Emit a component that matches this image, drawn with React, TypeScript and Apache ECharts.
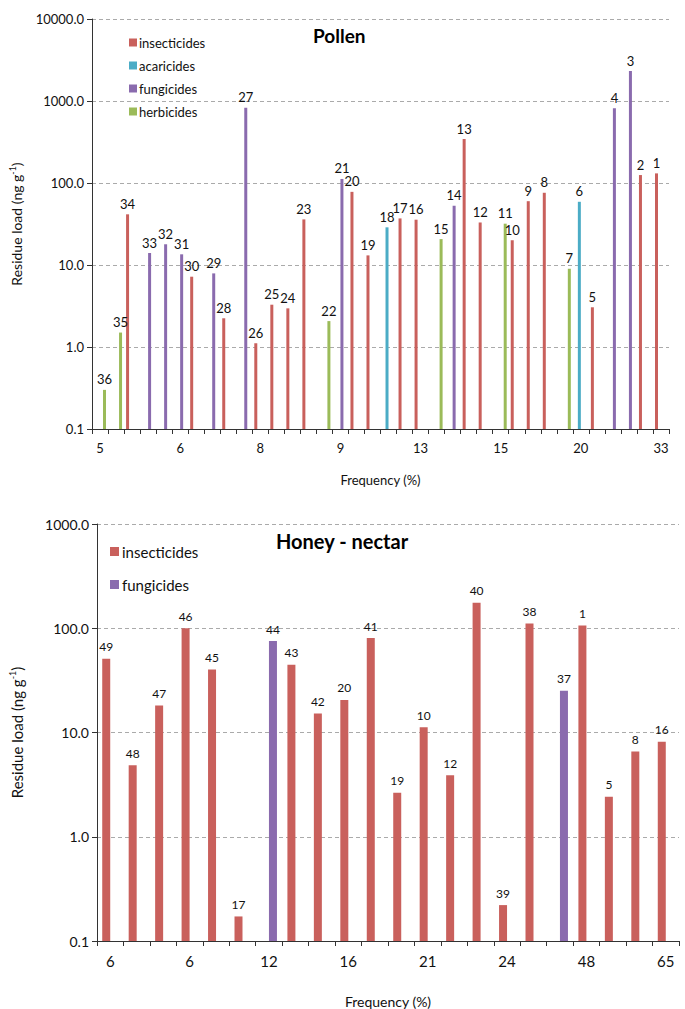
import React, { useEffect, useRef } from "react";
import * as echarts from "echarts";

// ---------- Pollen ----------
const pollenIds = [36, 35, 34, 33, 32, 31, 30, 29, 28, 27, 26, 25, 24, 23, 22, 21, 20, 19, 18, 17, 16, 15, 14, 13, 12, 11, 10, 9, 8, 7, 6, 5, 4, 3, 2, 1];
const pollenClass = ["herbicides", "herbicides", "insecticides", "fungicides", "fungicides", "fungicides", "insecticides", "fungicides", "insecticides", "fungicides", "insecticides", "insecticides", "insecticides", "insecticides", "herbicides", "fungicides", "insecticides", "insecticides", "acaricides", "insecticides", "insecticides", "herbicides", "fungicides", "insecticides", "insecticides", "herbicides", "insecticides", "insecticides", "insecticides", "herbicides", "acaricides", "insecticides", "fungicides", "fungicides", "insecticides", "insecticides"];
const pollenValues = [0.3, 1.5, 41.5, 14, 17.9, 13.5, 7.2, 7.9, 2.24, 828, 1.11, 3.28, 2.96, 36, 2.07, 112, 78, 13.1, 28.8, 37, 35.7, 20.7, 52.8, 344, 33, 31.9, 20, 60, 76, 9, 59, 3.05, 815, 2320, 125, 131];
const pollenFreqTicks = ["5", "6", "8", "9", "13", "15", "20", "33"];
const pollenGroups = ["insecticides", "acaricides", "fungicides", "herbicides"];

// ---------- Honey - nectar ----------
const honeyIds = [49, 48, 47, 46, 45, 17, 44, 43, 42, 20, 41, 19, 10, 12, 40, 39, 38, 37, 1, 5, 8, 16];
const honeyClass = ["insecticides", "insecticides", "insecticides", "insecticides", "insecticides", "insecticides", "fungicides", "insecticides", "insecticides", "insecticides", "insecticides", "insecticides", "insecticides", "insecticides", "insecticides", "insecticides", "insecticides", "fungicides", "insecticides", "insecticides", "insecticides", "insecticides"];
const honeyValues = [51, 4.85, 18.2, 100, 40.3, 0.172, 75.4, 44.7, 15.2, 20.5, 80.5, 2.64, 11.2, 3.89, 176, 0.221, 111, 25.2, 106, 2.42, 6.56, 8.13];
const honeyFreqTicks = ["6", "6", "12", "16", "21", "24", "48", "65"];
const honeyGroups = ["insecticides", "fungicides"];

const yTicks = [0.1, 1, 10, 100, 1000, 10000];

const colors: Record<string, string> = {
  insecticides: "#C9605C",
  acaricides: "#4BACC6",
  fungicides: "#8A6BAE",
  herbicides: "#9BBB59",
};

const FONT = "Lato, 'Open Sans', sans-serif";

export default function App() {
  const ref = useRef<HTMLDivElement>(null);
  useEffect(() => {
    if (!ref.current) return;
    const chart = echarts.init(ref.current, undefined, { renderer: "svg" });

    const makeY = (grid: number, max: number, fs: number, gap: number, nfs: number) => ({
      type: "log",
      gridIndex: grid,
      logBase: 10,
      min: yTicks[0],
      max,
      startValue: yTicks[0],
      axisLine: { show: true, lineStyle: { color: "#333", width: 1 } },
      axisTick: { show: true, length: 5, inside: false, lineStyle: { color: "#333" } },
      axisLabel: {
        formatter: (v: number) => Number(v).toFixed(1),
        fontSize: fs,
        color: "#111",
        fontFamily: FONT,
        margin: 8,
      },
      splitLine: { show: true, lineStyle: { color: "#aaa", type: [4, 3], width: 1 } },
      name: "Residue load (ng g{sup|-1})",
      nameLocation: "middle",
      nameGap: gap,
      nameRotate: 90,
      nameTextStyle: {
        fontSize: nfs,
        color: "#111",
        fontFamily: FONT,
        rich: { sup: { fontSize: 9, padding: [0, 0, 8, 0], fontFamily: FONT, color: "#111" } },
      },
    });

    const makeX = (grid: number, ids: number[], ticks: string[], every: number, fs: number, gap: number, nfs: number) => ({
      type: "category",
      gridIndex: grid,
      data: ids.map(String),
      axisLine: { show: true, onZero: false, lineStyle: { color: "#333" } },
      axisTick: { show: true, interval: 0, length: 5, alignWithLabel: false, lineStyle: { color: "#333" } },
      axisLabel: {
        interval: 0,
        formatter: (_v: string, i: number) => (i % every === 0 ? ticks[i / every] : ""),
        fontSize: fs,
        color: "#111",
        fontFamily: FONT,
        margin: 12,
      },
      splitLine: { show: false },
      name: "Frequency (%)",
      nameLocation: "middle",
      nameGap: gap,
      nameTextStyle: { fontSize: nfs, color: "#111", fontFamily: FONT },
    });

    const pollenSeries = pollenGroups.map((g) => ({
      type: "bar",
      name: g,
      xAxisIndex: 0,
      yAxisIndex: 0,
      barWidth: 3,
      barGap: "0%",
      itemStyle: { color: colors[g] },
      data: pollenValues.map((v, i) => (pollenClass[i] === g ? v : "-")),
      label: {
        show: true,
        position: "top",
        distance: 4,
        fontSize: 13,
        color: "#111",
        fontFamily: FONT,
        formatter: (p: any) => String(pollenIds[p.dataIndex]),
      },
    }));

    const honeySeries = honeyGroups.map((g) => ({
      type: "bar",
      name: g,
      xAxisIndex: 1,
      yAxisIndex: 1,
      barWidth: 8,
      barGap: "0%",
      itemStyle: { color: colors[g] },
      data: honeyValues.map((v, i) => (honeyClass[i] === g ? v : "-")),
      label: {
        show: true,
        position: "top",
        distance: 6,
        fontSize: 12,
        color: "#111",
        fontFamily: FONT,
        formatter: (p: any) => String(honeyIds[p.dataIndex]),
      },
    }));

    chart.setOption({
      animation: false,
      backgroundColor: "#fff",
      title: [
        { text: "Pollen", left: 308, top: 21, textStyle: { fontSize: 19, fontWeight: "bold", color: "#000", fontFamily: FONT } },
        { text: "Honey - nectar", left: 271, top: 526, textStyle: { fontSize: 20, fontWeight: "bold", color: "#000", fontFamily: FONT } },
      ],
      legend: [
        {
          data: pollenGroups,
          orient: "vertical",
          left: 124,
          top: 31,
          icon: "rect",
          itemWidth: 8,
          itemHeight: 8,
          itemGap: 10,
          selectedMode: false,
          textStyle: { fontSize: 13, color: "#111", fontFamily: FONT, padding: [0, 0, 0, -3] },
        },
        {
          data: honeyGroups,
          orient: "vertical",
          left: 105,
          top: 539,
          icon: "rect",
          itemWidth: 9,
          itemHeight: 9,
          itemGap: 18,
          selectedMode: false,
          textStyle: { fontSize: 15, color: "#111", fontFamily: FONT, padding: [0, 0, 0, -2] },
        },
      ],
      grid: [
        { left: 83, right: 16, top: 19, height: 410 },
        { left: 91, right: 6, top: 524, height: 418 },
      ],
      xAxis: [
        makeX(0, pollenIds, pollenFreqTicks, 5, 13, 44, 13),
        makeX(1, honeyIds, honeyFreqTicks, 3, 15, 53, 14),
      ],
      yAxis: [makeY(0, 10000, 13, 67, 14), makeY(1, 1000, 14, 72, 15)],
      series: [...pollenSeries, ...honeySeries],
    });

    return () => chart.dispose();
  }, []);

  return (
    <div
      ref={ref}
      style={{ position: "fixed", left: 0, top: 0, width: 685, height: 1009, background: "#fff" }}
    />
  );
}
